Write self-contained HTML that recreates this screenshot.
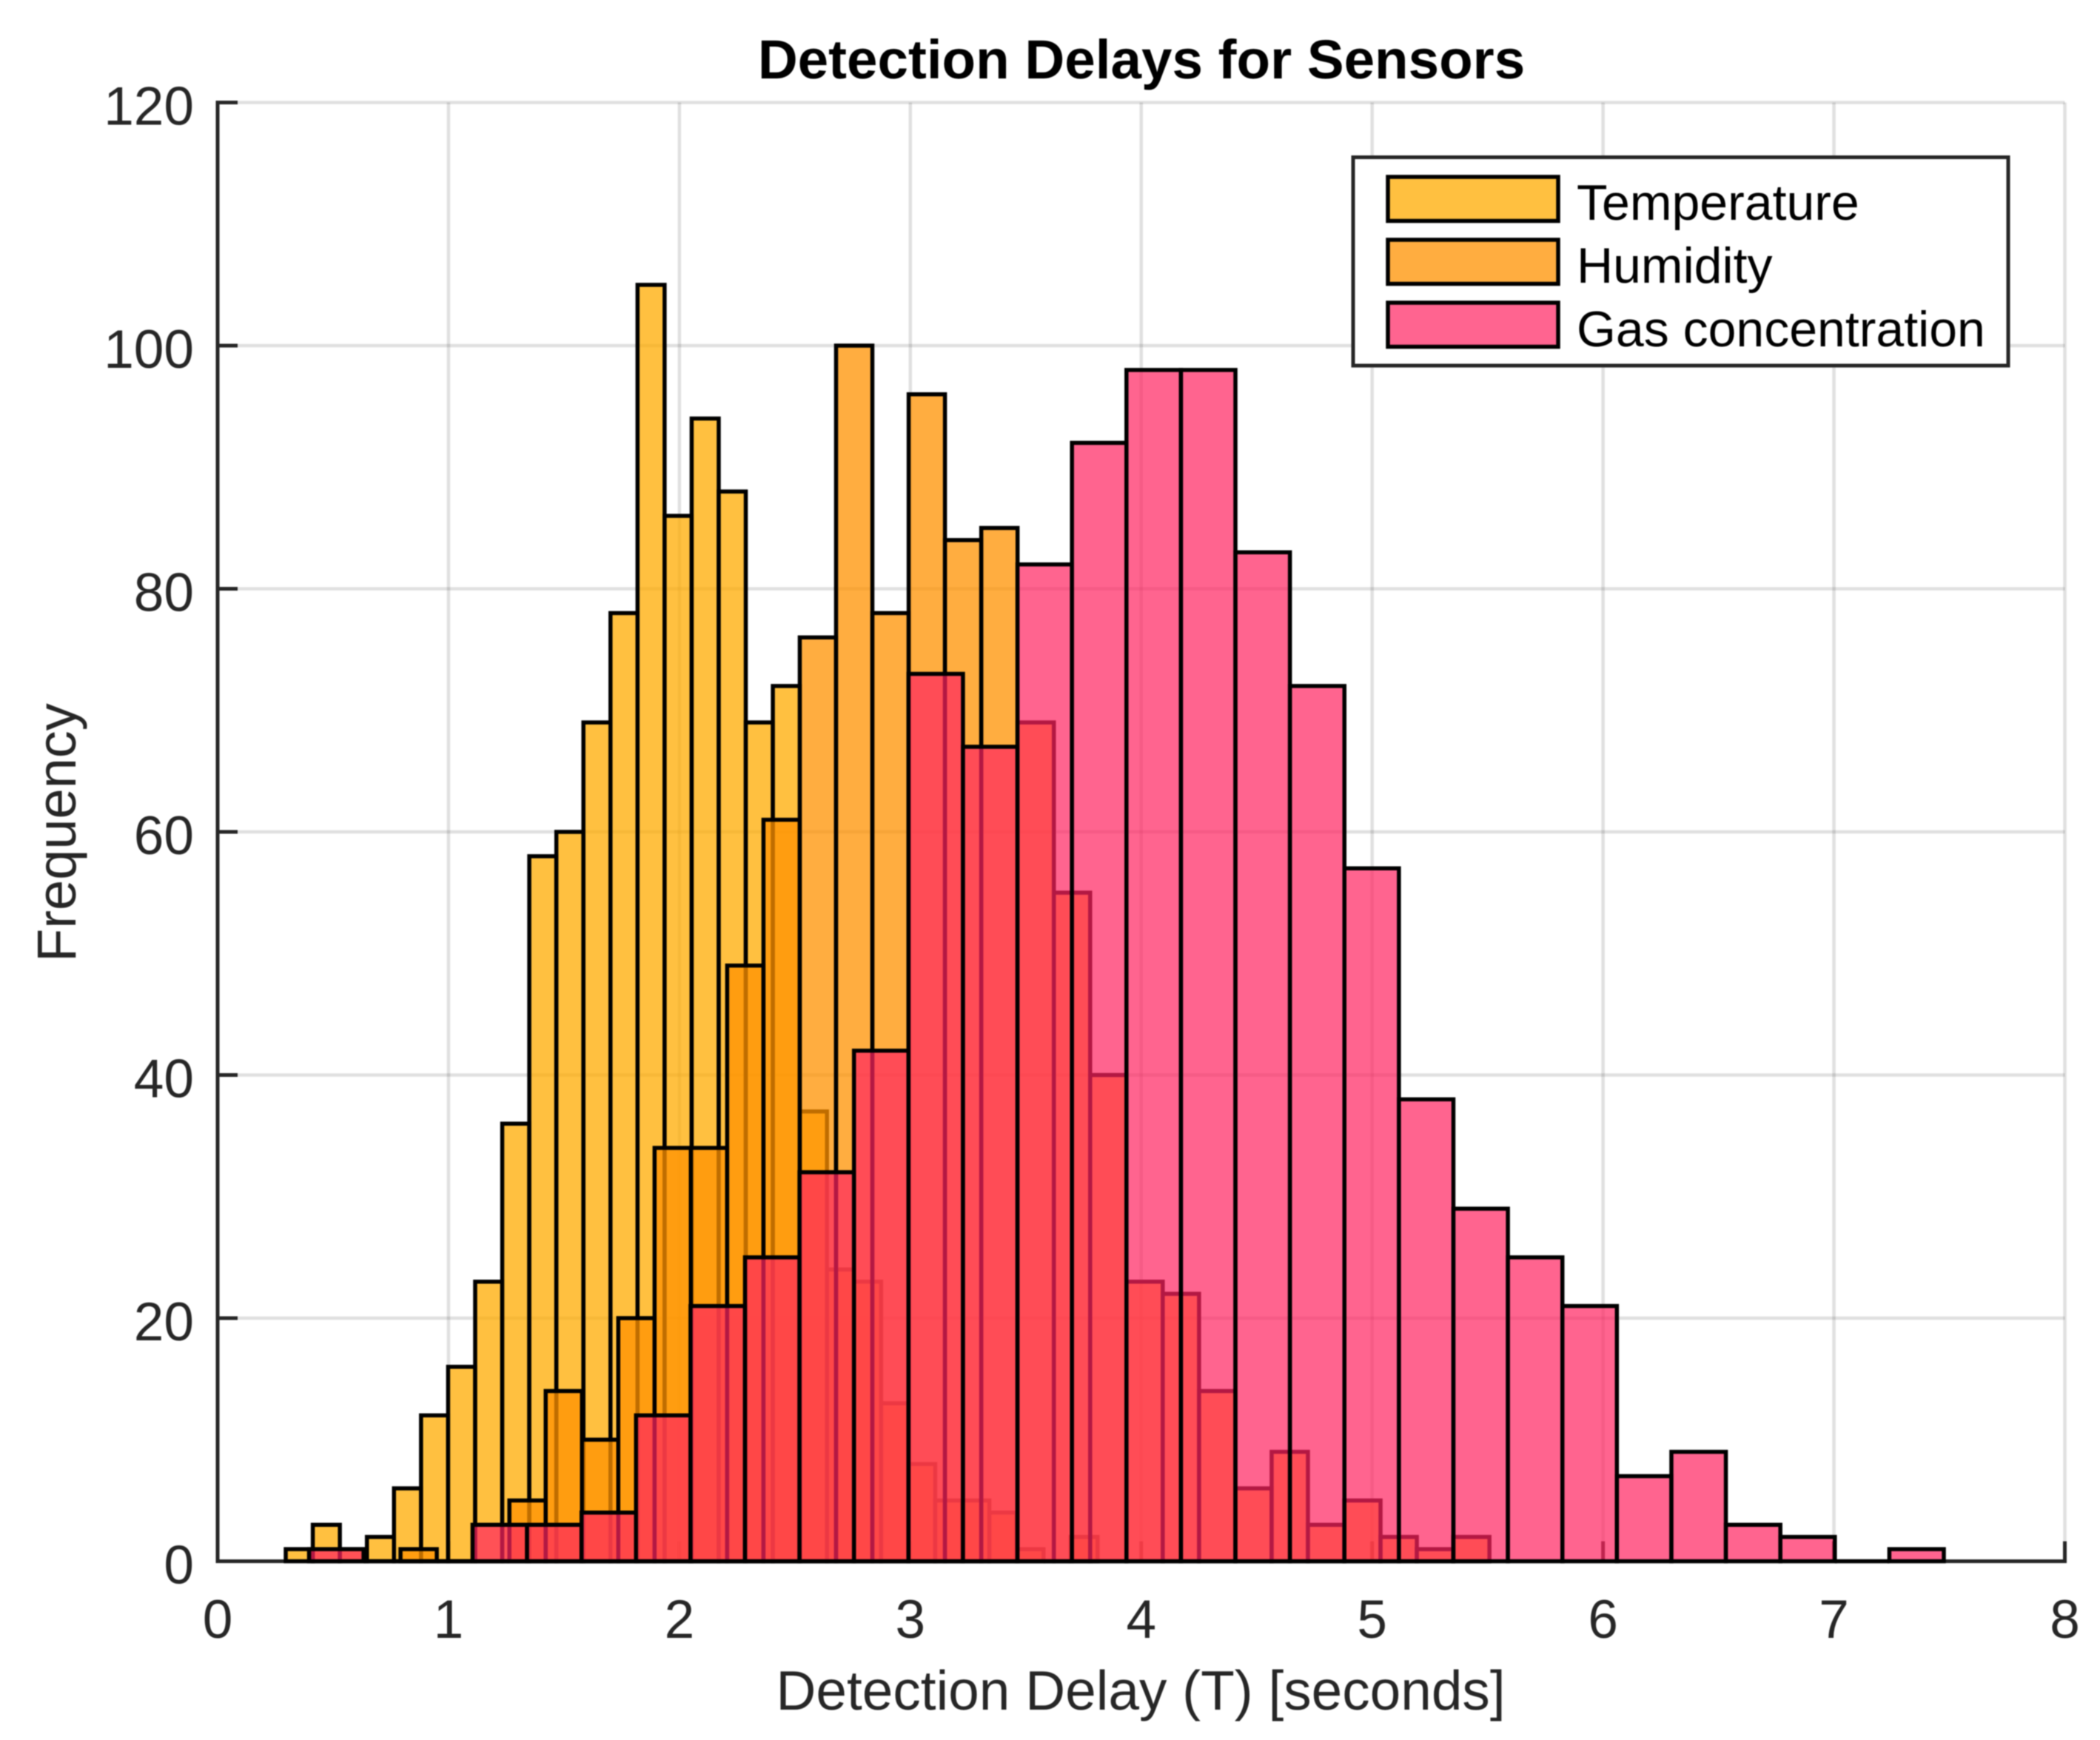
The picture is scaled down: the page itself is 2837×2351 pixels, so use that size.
<!DOCTYPE html>
<html lang="en">
<head>
<meta charset="utf-8">
<title>Detection Delays for Sensors</title>
<style>
  html, body { margin: 0; padding: 0; background: #fff; }
  body { width: 2837px; height: 2351px; overflow: hidden; }
  svg { display: block; filter: blur(0.7px); }
  text { font-family: "Liberation Sans", Arial, sans-serif; fill: #262626; }
</style>
</head>
<body>
<svg id="chart" xmlns="http://www.w3.org/2000/svg" width="2837" height="2351" viewBox="0 0 2837 2351">
  <rect x="0" y="0" width="2837" height="2351" fill="#ffffff"/>
  <g id="grid"></g>
  <g id="axes"></g>
  <g id="bars"></g>
  <text x="1542" y="106" text-anchor="middle" font-size="74.6" font-weight="700" style="fill:#000">Detection Delays for Sensors</text>
  <text x="1541" y="2310" text-anchor="middle" font-size="74.8">Detection Delay (T) [seconds]</text>
  <text x="0" y="0" transform="translate(102,1125) rotate(-90)" text-anchor="middle" font-size="74">Frequency</text>
  <g>
    <rect x="1828" y="212.5" width="885" height="281.5" fill="#ffffff" stroke="#262626" stroke-width="5"/>
    <g>
      <rect x="1875" y="239" width="230" height="59.5" fill="#ffc040" stroke="#000" stroke-width="5.5"/>
      <text x="2130" y="297" font-size="68" style="fill:#000">Temperature</text>
    </g>
    <g>
      <rect x="1875" y="324" width="230" height="59.5" fill="#ffad40" stroke="#000" stroke-width="5.5"/>
      <text x="2130" y="382" font-size="68" style="fill:#000">Humidity</text>
    </g>
    <g>
      <rect x="1875" y="409" width="230" height="59.5" fill="#ff6490" stroke="#000" stroke-width="5.5"/>
      <text x="2130" y="468" font-size="68" style="fill:#000">Gas concentration</text>
    </g>
  </g>
</svg>
<script>
  // Histogram data
  var xTickLabels = [0, 1, 2, 3, 4, 5, 6, 7, 8];
  var yTickLabels = [0, 20, 40, 60, 80, 100, 120];

  var temperatureCounts = [1, 3, 1, 2, 6, 12, 16, 23, 36, 58, 60, 69, 78, 105, 86, 94, 88, 69, 72, 37, 24, 23, 13, 8, 5, 5, 4, 1, 0, 2];
  var humidityCounts = [1, 0, 0, 5, 14, 10, 20, 34, 34, 49, 61, 76, 100, 78, 96, 84, 85, 69, 55, 40, 23, 22, 14, 6, 9, 3, 5, 2, 1, 2];
  var gasCounts = [1, 0, 0, 3, 3, 4, 12, 21, 25, 32, 42, 73, 67, 82, 92, 98, 98, 83, 72, 57, 38, 29, 25, 21, 7, 9, 3, 2, 0, 1];

  // Bin layout in seconds
  var temperatureBinStart = 0.295;
  var temperatureBinWidth = 0.1172;
  var humidityBinStart = 0.792;
  var humidityBinWidth = 0.1572;
  var gasBinStart = 0.396;
  var gasBinWidth = 0.236;

  var SVG_NS = 'http://www.w3.org/2000/svg';
  var plotLeft = 294, plotRight = 2789.5, plotTop = 138.5, plotBottom = 2109.5;
  var xMax = 8, yMax = 120;

  function xScale(v) { return plotLeft + (v / xMax) * (plotRight - plotLeft); }
  function yScale(v) { return plotBottom - (v / yMax) * (plotBottom - plotTop); }

  function drawLine(parent, x1, y1, x2, y2, stroke, width, name) {
    var l = document.createElementNS(SVG_NS, 'line');
    l.setAttribute('x1', x1);
    l.setAttribute('y1', y1);
    l.setAttribute('x2', x2);
    l.setAttribute('y2', y2);
    l.setAttribute('stroke', stroke);
    l.setAttribute('stroke-width', width);
    
    
    parent.appendChild(l);
  }

  function drawLabel(parent, x, y, anchor, content, name) {
    var t = document.createElementNS(SVG_NS, 'text');
    t.setAttribute('x', x);
    t.setAttribute('y', y);
    t.setAttribute('text-anchor', anchor);
    t.setAttribute('font-size', '73');
    t.textContent = content;
    
    
    parent.appendChild(t);
  }

  var gridGroup = document.getElementById('grid');
  var axesGroup = document.getElementById('axes');
  var barsGroup = document.getElementById('bars');
  var gridColor = 'rgba(38,38,38,0.14)';
  var axisColor = '#262626';

  xTickLabels.forEach(function (v) {
    if (v > 0) drawLine(gridGroup, xScale(v), plotTop, xScale(v), plotBottom, gridColor, 4.5, 'x-grid-line-' + v);
    drawLine(axesGroup, xScale(v), plotBottom, xScale(v), plotBottom - 27, axisColor, 5, 'x-tick-' + v);
    drawLabel(axesGroup, xScale(v), 2213, 'middle', String(v), 'x-tick-label-' + v);
  });

  yTickLabels.forEach(function (v) {
    if (v > 0) drawLine(gridGroup, plotLeft, yScale(v), plotRight, yScale(v), gridColor, 4.5, 'y-grid-line-' + v);
    drawLine(axesGroup, plotLeft, yScale(v), plotLeft + 27, yScale(v), axisColor, 5, 'y-tick-' + v);
    drawLabel(axesGroup, 262, yScale(v) + 30, 'end', String(v), 'y-tick-label-' + v);
  });

  drawLine(axesGroup, plotLeft, plotTop - 2.5, plotLeft, plotBottom + 2.5, axisColor, 5, 'y-axis-line');
  drawLine(axesGroup, plotLeft - 2.5, plotBottom, plotRight + 2.5, plotBottom, axisColor, 5, 'x-axis-line');

  function drawSeries(counts, binStart, binWidth, fill, opacity, name) {
    var g = document.createElementNS(SVG_NS, 'g');
    
    
    counts.forEach(function (count, i) {
      var x0 = xScale(binStart + i * binWidth);
      var x1 = xScale(binStart + (i + 1) * binWidth);
      var yTop = yScale(count);
      var p = document.createElementNS(SVG_NS, 'path');
      p.setAttribute('d', 'M' + x0 + ' ' + plotBottom + 'V' + yTop + 'H' + x1 + 'V' + plotBottom + 'Z');
      p.setAttribute('fill', fill);
      p.setAttribute('fill-opacity', opacity);
      p.setAttribute('stroke', '#000000');
      p.setAttribute('stroke-width', '5.5');
      p.setAttribute('stroke-linejoin', 'miter');
      
      
      g.appendChild(p);
    });
    barsGroup.appendChild(g);
  }

  drawSeries(temperatureCounts, temperatureBinStart, temperatureBinWidth, 'rgb(255,171,0)', 0.75, 'temperature');
  drawSeries(humidityCounts, humidityBinStart, humidityBinWidth, 'rgb(255,145,0)', 0.75, 'humidity');
  drawSeries(gasCounts, gasBinStart, gasBinWidth, 'rgb(255,34,96)', 0.7, 'gas-concentration');
</script>
</body>
</html>
